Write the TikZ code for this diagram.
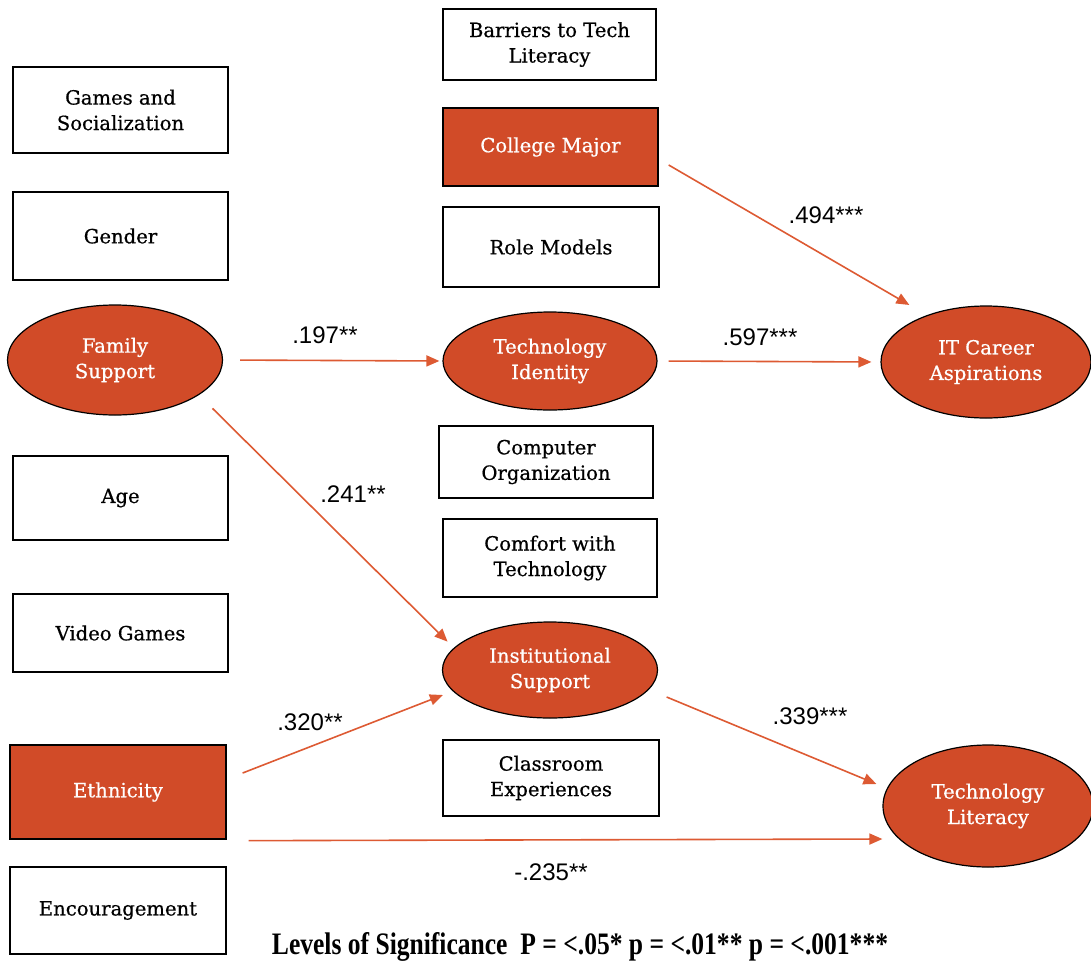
\documentclass[tikz,border=0pt]{standalone}
\usepackage{fontspec}
\setmainfont{DejaVu Serif}
\newfontfamily\nodefont[FakeBold=0.6]{DejaVu Serif}
\newfontfamily\labfont{Liberation Sans}
\newfontfamily\legfont{Liberation Serif}
\usetikzlibrary{shapes.geometric,arrows.meta,calc}
\definecolor{rust}{HTML}{D14B28}
\definecolor{arr}{HTML}{DD5A33}
\begin{document}
\begin{tikzpicture}[x=1pt,y=-1pt,
  box/.style={draw=black,line width=1.3pt,rectangle,inner sep=0pt,align=center,
    font=\nodefont\fontsize{19.6}{25.5}\selectfont},
  fbox/.style={box,fill=rust,text=white},
  ell/.style={draw=black,line width=1.2pt,ellipse,inner sep=0pt,fill=rust,text=white,
    align=center,font=\nodefont\fontsize{19.6}{25.5}\selectfont},
  arrow/.style={draw=arr,line width=1.6pt,-{Triangle[length=13pt,width=11pt]}},
  lab/.style={anchor=base,font=\labfont\fontsize{24}{28}\selectfont}]
\useasboundingbox (0,0) rectangle (1091,964);
% left column
\node[box,minimum width=215pt,minimum height=86pt] (games) at (120.5,110) {Games and\\Socialization};
\node[box,minimum width=215pt,minimum height=88pt] (gender) at (120.5,236) {Gender};
\node[ell,minimum width=215pt,minimum height=110pt] (fam) at (115,360) {Family\\Support};
\node[box,minimum width=215pt,minimum height=84pt] (age) at (120.5,498) {Age};
\node[box,minimum width=215pt,minimum height=78pt] (video) at (120.5,633) {Video Games};
\node[fbox,minimum width=216pt,minimum height=94pt] (ethn) at (118,792) {Ethnicity};
\node[box,minimum width=216pt,minimum height=87pt] (enc) at (118,910.5) {Encouragement};
% middle column
\node[box,minimum width=213pt,minimum height=71pt] (barr) at (549.5,44.5) {Barriers to Tech\\Literacy};
\node[fbox,minimum width=215pt,minimum height=78pt] (college) at (550.5,147) {College Major};
\node[box,minimum width=216pt,minimum height=80pt] (role) at (551,247) {Role Models};
\node[ell,minimum width=214pt,minimum height=98pt] (techid) at (550,361) {Technology\\Identity};
\node[box,minimum width=214pt,minimum height=72pt] (comporg) at (546,462) {Computer\\Organization};
\node[box,minimum width=214pt,minimum height=78pt] (comfort) at (550,558) {Comfort with\\Technology};
\node[ell,minimum width=215pt,minimum height=96pt] (inst) at (550,670) {Institutional\\Support};
\node[box,minimum width=216pt,minimum height=76pt] (class) at (551,778) {Classroom\\Experiences};
% right column
\node[ell,minimum width=210pt,minimum height=112pt] (itcar) at (986,362) {IT Career\\Aspirations};
\node[ell,minimum width=210pt,minimum height=122pt] (techlit) at (988,806) {Technology\\Literacy};
% connectors
\draw[arrow,shorten <=17pt,shorten >=3pt] (fam.east) -- (techid.west);
\draw[arrow,shorten <=11pt,shorten >=9pt] (techid.east) -- (itcar.west);
\draw[arrow] ($(college.east)+(10,18)$) -- ($(itcar.north west)+(-2,-17)$);
\draw[arrow] ($(fam.south east)+(21,9)$) -- ($(inst.north west)+(-26,6)$);
\draw[arrow] ($(ethn.east)+(16,-19)$) -- ($(inst.west)+(1,25)$);
\draw[arrow] ($(inst.east)+(8.5,27)$) -- ($(techlit.west)+(-6,-22)$);
\draw[arrow] ($(ethn.south east)+(22,1)$) -- ($(techlit.west)+(0,33)$);
% labels
\node[lab] (l1) at (325,343) {.197**};
\node[lab] (l2) at (760,345) {.597***};
\node[lab] (l3) at (826,223) {.494***};
\node[lab] (l4) at (353,502) {.241**};
\node[lab] (l5) at (310,730) {.320**};
\node[lab] (l6) at (810,724) {.339***};
\node[lab] (l7) at (551,880) {-.235**};
% legend
\node[anchor=base,inner sep=0pt] (legend) at (580,954)
  {\resizebox{616pt}{22pt}{\legfont\bfseries Levels of Significance~~P = <.05* p = <.01** p = <.001***}};
\end{tikzpicture}
\end{document}
